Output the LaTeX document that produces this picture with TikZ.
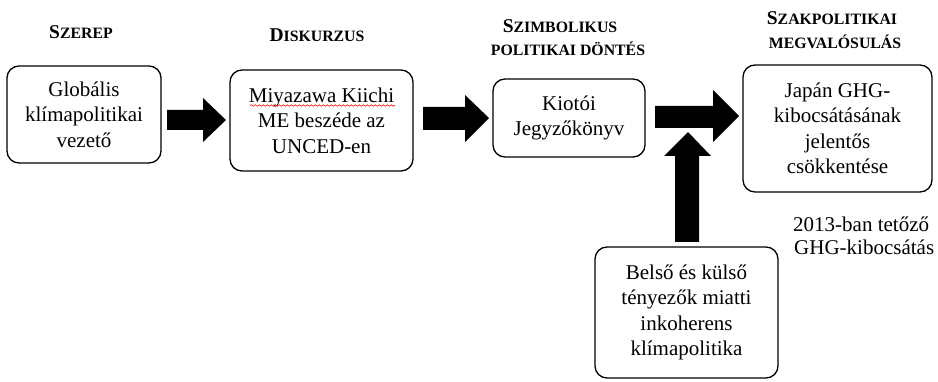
\documentclass[tikz,border=0pt]{standalone}
\usepackage{fontspec}
\setmainfont{Liberation Serif}
\usetikzlibrary{calc,decorations.pathmorphing}
\newcommand\hsc[2]{{\fontsize{19.5}{23}\selectfont\bfseries #1}{\fontsize{15.8}{23}\selectfont\bfseries #2}}
\tikzset{
  box/.style={draw=black, line width=1.3pt, rounded corners=12pt, align=center,
    inner sep=0pt, font=\fontsize{21}{25.5}\selectfont},
  head/.style={align=center, inner sep=0pt, anchor=base},
  plain/.style={align=left, inner sep=0pt, anchor=base west, font=\fontsize{21}{23}\selectfont},
  blockarrow/.style={fill=black},
  spell/.style={draw=red, line width=0.6pt, decorate,
    decoration={snake, segment length=4pt, amplitude=0.8pt}}
}
\begin{document}
\begin{tikzpicture}[x=1pt, y=-1pt]
\useasboundingbox (0,0) rectangle (938,382);
% boxes
\node[box, minimum width=154pt, minimum height=97pt] (b1) at (84,114.5) {Globális\\klímapolitikai\\vezető};
\node[box, minimum width=183pt, minimum height=101pt] (b2) at (321.5,120.5) {Miyazawa Kiichi\\ME beszéde az\\UNCED-en};
\node[box, minimum width=152pt, minimum height=78pt] (b3) at (569,118) {Kiotói\\Jegyzőkönyv};
\node[box, minimum width=189pt, minimum height=127pt] (b4) at (837.5,128.5) {Japán GHG-\\kibocsátásának\\jelentős\\csökkentése};
\node[box, minimum width=183pt, minimum height=131pt] (b5) at (686.5,312.5) {Belső és külső\\tényezők miatti\\inkoherens\\klímapolitika};
% spell-check underline
\draw[spell] ($(b2.center)+(-71.5,-15)$) coordinate (u1) -- ($(b2.center)+(73.5,-15)$) coordinate (u2);
% headings
\node[head] (h1) at (81,39) {\hsc{S}{ZEREP}};
\node[head] (h2) at (317,42) {\hsc{D}{ISKURZUS}};
\node[head] (h3a) at (560,33) {\hsc{S}{ZIMBOLIKUS}};
\node[head] (h3b) at (568,56) {\hsc{}{POLITIKAI DÖNTÉS}};
\node[head] (h4a) at (832,25) {\hsc{S}{ZAKPOLITIKAI}};
\node[head] (h4b) at (835,49) {\hsc{}{MEGVALÓSULÁS}};
% note
\node[plain] (n1) at (793,232) {2013-ban tetőző};
\node[plain] (n2) at (794,255) {GHG-kibocsátás};
% block arrows
\fill[blockarrow] (167,110) -- (203,110) -- (203,98) -- (226,120) -- (203,142) -- (203,130) -- (167,130) -- cycle;
\fill[blockarrow] (423,107) -- (465,107) -- (465,95) -- (489,118) -- (465,142) -- (465,130) -- (423,130) -- cycle;
\fill[blockarrow] (655,106) -- (713,106) -- (713,90) -- (739,116) -- (713,142) -- (713,128) -- (655,128) -- cycle;
\fill[blockarrow] (675,242) -- (675,156) -- (664,156) -- (688,132) -- (711,156) -- (699,156) -- (699,242) -- cycle;
\end{tikzpicture}
\end{document}
